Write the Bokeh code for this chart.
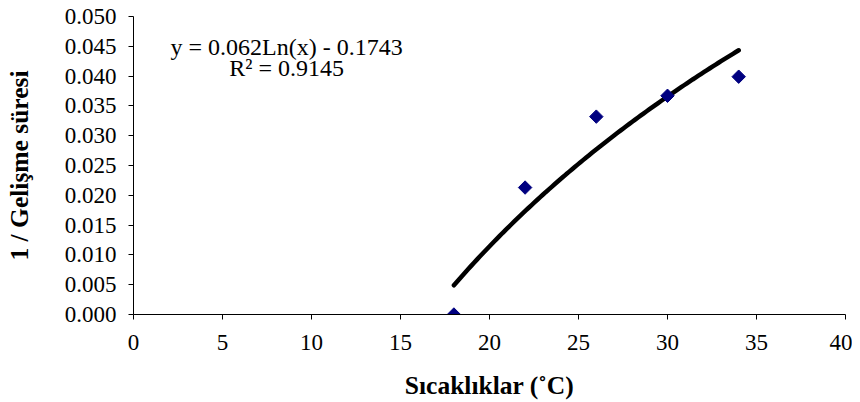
import numpy as np
from bokeh.plotting import figure
from bokeh.models import FixedTicker, Label, PrintfTickFormatter
from bokeh.embed import file_html
from bokeh.resources import INLINE

# Data
temps = [18, 22, 26, 30, 34]
rate = [0.000, 0.0213, 0.0332, 0.0367, 0.0399]
# Displayed logarithmic trendline: y = a*ln(x) + b
trend_a = 0.062
trend_b = -0.1743
trend_r2 = 0.9145
x_ticks = [0, 5, 10, 15, 20, 25, 30, 35, 40]
y_ticks = [0.000, 0.005, 0.010, 0.015, 0.020, 0.025, 0.030, 0.035, 0.040, 0.045, 0.050]

FONT = "Liberation Serif"

p = figure(frame_width=712, frame_height=298, width=852, height=394,
           min_border_left=133, min_border_right=7, min_border_top=16, min_border_bottom=80,
           x_range=(0, 40), y_range=(0, 0.05),
           output_backend="svg", toolbar_location=None)
p.outline_line_color = None
p.xgrid.visible = False
p.ygrid.visible = False
p.background_fill_color = "white"

for ax in (p.xaxis, p.yaxis):
    ax.axis_line_color = "black"
    ax.axis_line_width = 1
    ax.major_tick_line_color = "black"
    ax.major_tick_out = 5
    ax.major_tick_in = 0
    ax.minor_tick_line_color = None
    ax.major_label_text_font = FONT
    ax.major_label_text_font_size = "23px"
    ax.major_label_text_color = "black"
    ax.axis_label_text_font = FONT
    ax.axis_label_text_font_size = "25.5px"
    ax.axis_label_text_font_style = "bold"
    ax.axis_label_text_color = "black"

p.xaxis.ticker = FixedTicker(ticks=x_ticks)
p.yaxis.ticker = FixedTicker(ticks=y_ticks)
p.yaxis.formatter = PrintfTickFormatter(format="%.3f")
p.xaxis.major_label_standoff = 15
p.yaxis.major_label_standoff = 12

p.xaxis.axis_label = "Sıcaklıklar (˚C)"
p.xaxis.axis_label_standoff = 18
p.yaxis.axis_label = "1 / Gelişme süresi"
p.yaxis.axis_label_standoff = 28

# trendline
xs = np.linspace(min(temps), max(temps), 100)
ys = trend_a * np.log(xs) + trend_b
p.line(xs, ys, line_color="black", line_width=4.5, line_cap="round")

p.scatter(temps, rate, marker="square", angle=np.pi / 4, size=9.5,
          fill_color="#000080", line_color="#000080")

eq1 = Label(x=8.6, y=0.0448, text=f"y = {trend_a}Ln(x) - {abs(trend_b)}",
            text_font=FONT, text_font_size="24px", text_color="black",
            text_baseline="alphabetic", text_align="center")
eq2 = Label(x=8.6, y=0.04144, text=f"R² = {trend_r2}",
            text_font=FONT, text_font_size="24px", text_color="black",
            text_baseline="alphabetic", text_align="center")
p.add_layout(eq1)
p.add_layout(eq2)

open("out.html", "w").write(file_html(p, INLINE))
